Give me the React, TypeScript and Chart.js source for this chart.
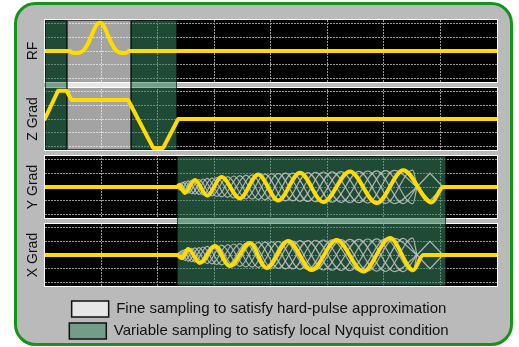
import React, { useEffect, useRef } from 'react';
import { Chart, registerables } from 'chart.js';

Chart.register(...registerables);

// ---------- data ----------
const panelTitles = ['RF', 'Z Grad', 'Y Grad', 'X Grad'];
const xGridTicks = [1, 2, 3, 4, 5, 6, 7];
const yGridTicks = [-2, -1, 0, 1, 2];

const rfX = [0, 0.442, 0.478, 0.549, 0.619, 0.69, 0.761, 0.832, 0.903, 0.973, 1.044, 1.115, 1.186, 1.257, 1.327, 1.398, 1.451, 1.487, 8];
const rfY = [0, 0, -0.11, -0.14, -0.11, 0.07, 0.51, 1.16, 1.81, 2.05, 1.81, 1.16, 0.51, 0.07, -0.11, -0.14, -0.11, 0, 0];

const zX = [0, 0.235, 0.384, 0.473, 1.474, 1.917, 2.094, 2.36, 8];
const zY = [0, 2.05, 2.05, 1.38, 1.38, -2.1, -2.1, 0, 0];

const yGradX = [0, 2.336, 2.377, 2.478, 2.655, 2.873, 3.127, 3.451, 3.775, 4.129, 4.513, 4.926, 5.398, 5.871, 6.342, 6.844, 7.05, 8];
const yGradY = [0, 0, 0.14, -0.43, 0.51, -0.62, 0.72, -0.83, 0.91, -0.98, 1.04, -1.09, 1.13, -1.17, 1.21, -1.12, 0, 0];

const xGradX = [0, 2.342, 2.419, 2.536, 2.743, 3.009, 3.274, 3.628, 3.924, 4.306, 4.72, 5.163, 5.634, 6.106, 6.519, 6.696, 8];
const xGradY = [0, 0, -0.22, 0.43, -0.58, 0.65, -0.8, 0.87, -0.94, 1.01, -1.09, 1.09, -1.2, 1.23, -1.09, 0, 0];

// other interleaves (grey)
const grayAX = [2.336, 2.411, 2.536, 2.727, 2.958, 3.235, 3.559, 3.894, 4.257, 4.651, 5.083, 5.556, 6.028, 6.51, 6.584];
const grayAUp = [0, 0.22, -0.45, 0.54, -0.65, 0.76, -0.86, 0.93, -1.0, 1.05, -1.1, 1.14, -1.19, 1.22, 0];
const grayADown = [0, -0.22, 0.45, -0.54, 0.65, -0.76, 0.86, -0.93, 1.0, -1.05, 1.1, -1.14, 1.19, -1.22, 0];

const grayBX = [2.336, 2.444, 2.596, 2.8, 3.042, 3.343, 3.667, 4.011, 4.386, 4.788, 5.241, 5.713, 6.184, 6.584];
const grayBUp = [0, 0.33, -0.49, 0.58, -0.69, 0.8, -0.88, 0.96, -1.01, 1.07, -1.12, 1.16, -1.2, 0];
const grayBDown = [0, -0.33, 0.49, -0.58, 0.69, -0.8, 0.88, -0.96, 1.01, -1.07, 1.12, -1.16, 1.2, 0];

const grayCX = [2.336, 2.377, 2.478, 2.655, 2.873, 3.127, 3.451, 3.775, 4.129, 4.513, 4.926, 5.398, 5.871, 6.342, 6.584];
const grayCUp = [0, 0.15, -0.4, 0.51, -0.62, 0.72, -0.83, 0.91, -0.98, 1.04, -1.09, 1.13, -1.17, 1.21, 0];
const grayCDown = [0, -0.15, 0.4, -0.51, 0.62, -0.72, 0.83, -0.91, 0.98, -1.04, 1.09, -1.13, 1.17, -1.21, 0];

const diamondX = [6.584, 6.814, 7.044];
const diamondUp = [0, 1.0, 0];
const diamondDown = [0, -1.0, 0];

// sampling regions (x extents)
const fineRegionsTop = [[0.39, 1.522]];
const variableRegionsTop = [[0, 0.39], [1.522, 2.345]];
const variableRegionsBottom = [[2.345, 7.09]];

const legendLabels = [
  'Fine sampling to satisfy hard-pulse approximation',
  'Variable sampling to satisfy local Nyquist condition',
];

// ---------- styles ----------
const YELLOW = '#ffdc00';
const GREY_TRACE = 'rgba(195,195,195,0.85)';
const GRID = '#9a9a9a';
const FRAME_FILL = '#bababa';
const FRAME_STROKE = '#15931a';
const FINE_FILL = 'rgba(255,255,255,0.64)';
const VAR_FILL = 'rgba(56,135,98,0.55)';
const FINE_SWATCH = '#e6e6e6';
const VAR_SWATCH = '#729d89';

const panelIds = ['yRF', 'yZ', 'yY', 'yX'];

function pts(xs: number[], ys: number[]) {
  return xs.map((x, i) => ({ x, y: ys[i] }));
}

function yellowSet(label: string, xs: number[], ys: number[], axis: string, smooth = true) {
  return {
    label,
    data: pts(xs, ys),
    yAxisID: axis,
    xAxisID: 'x',
    borderColor: YELLOW,
    borderWidth: 4,
    pointRadius: 0,
    fill: false,
    tension: 0,
    cubicInterpolationMode: smooth ? 'monotone' : 'default',
    borderJoinStyle: 'round',
    borderCapStyle: 'round',
    order: 0,
  };
}

function greySet(label: string, xs: number[], ys: number[], axis: string) {
  return {
    label,
    data: pts(xs, ys),
    yAxisID: axis,
    xAxisID: 'x',
    borderColor: GREY_TRACE,
    borderWidth: 1.2,
    pointRadius: 0,
    fill: false,
    tension: 0,
    cubicInterpolationMode: 'monotone',
    order: 1,
  };
}

function greyFamily(axis: string) {
  return [
    greySet('A+', grayAX, grayAUp, axis),
    greySet('A-', grayAX, grayADown, axis),
    greySet('B+', grayBX, grayBUp, axis),
    greySet('B-', grayBX, grayBDown, axis),
    greySet('C+', grayCX, grayCUp, axis),
    greySet('C-', grayCX, grayCDown, axis),
    { ...greySet('D+', diamondX, diamondUp, axis), cubicInterpolationMode: 'default' },
    { ...greySet('D-', diamondX, diamondDown, axis), cubicInterpolationMode: 'default' },
  ];
}

function roundRectPath(ctx: CanvasRenderingContext2D, x: number, y: number, w: number, h: number, r: number) {
  ctx.beginPath();
  ctx.moveTo(x + r, y);
  ctx.lineTo(x + w - r, y);
  ctx.arcTo(x + w, y, x + w, y + r, r);
  ctx.lineTo(x + w, y + h - r);
  ctx.arcTo(x + w, y + h, x + w - r, y + h, r);
  ctx.lineTo(x + r, y + h);
  ctx.arcTo(x, y + h, x, y + h - r, r);
  ctx.lineTo(x, y + r);
  ctx.arcTo(x, y, x + r, y, r);
  ctx.closePath();
}

const decorPlugin = {
  id: 'decor',
  beforeDraw(chart: any) {
    const { ctx, chartArea, scales } = chart;
    ctx.save();
    roundRectPath(ctx, 15.5, 3.5, chart.width - 23, chart.height - 6, 20);
    ctx.fillStyle = FRAME_FILL;
    ctx.fill();
    ctx.lineWidth = 3;
    ctx.strokeStyle = FRAME_STROKE;
    ctx.stroke();
    ctx.fillStyle = '#000';
    for (const id of panelIds) {
      const s = scales[id];
      ctx.fillRect(chartArea.left, s.top, chartArea.right - chartArea.left, s.bottom - s.top);
    }
    ctx.restore();
  },
  beforeDatasetsDraw(chart: any) {
    const { ctx, chartArea, scales } = chart;
    const L = chartArea.left;
    const W = chartArea.right - chartArea.left;
    ctx.save();
    // cover gaps between panels
    ctx.fillStyle = FRAME_FILL;
    for (let i = 0; i < panelIds.length; i++) {
      const s = scales[panelIds[i]];
      const nextTop = i + 1 < panelIds.length ? scales[panelIds[i + 1]].top : chartArea.bottom + 2;
      ctx.fillRect(L - 1, s.bottom, W + 2, nextTop - s.bottom);
    }
    // white panel borders
    ctx.strokeStyle = '#ffffff';
    ctx.lineWidth = 1;
    for (const id of panelIds) {
      const s = scales[id];
      ctx.strokeRect(Math.round(L) - 0.5, Math.round(s.top) - 0.5, Math.round(W) + 1, Math.round(s.bottom - s.top) + 1);
    }
    // sampling regions
    const x = scales.x;
    const drawRegions = (regions: number[][], top: number, bottom: number, fill: string) => {
      for (const [a, b] of regions) {
        const x1 = Math.round(x.getPixelForValue(a));
        const x2 = Math.round(x.getPixelForValue(b));
        ctx.fillStyle = fill;
        ctx.fillRect(x1, top, x2 - x1, bottom - top);
        ctx.strokeStyle = 'rgba(0,0,0,0.6)';
        ctx.lineWidth = 1;
        ctx.strokeRect(x1 + 0.5, Math.round(top) + 0.5, x2 - x1 - 1, Math.round(bottom - top) - 1);
      }
    };
    const t1 = scales.yRF.top, b1 = scales.yZ.bottom;
    const t2 = scales.yY.top, b2 = scales.yX.bottom;
    drawRegions(fineRegionsTop, t1, b1, FINE_FILL);
    drawRegions(variableRegionsTop, t1, b1, VAR_FILL);
    drawRegions(variableRegionsBottom, t2, b2, VAR_FILL);
    ctx.restore();
  },
};

function panelAxis(title: string, weight: number) {
  return {
    type: 'linear',
    position: 'left',
    stack: 'panels',
    stackWeight: 62,
    weight,
    min: -2.25,
    max: 2.25,
    afterBuildTicks: (s: any) => {
      s.ticks = yGridTicks.map((v) => ({ value: v }));
    },
    ticks: { display: false },
    grid: { color: GRID, lineWidth: 1, drawTicks: false },
    border: { display: false, dash: [2, 1] },
    title: {
      display: true,
      text: title,
      color: '#111',
      font: { size: 14 },
      padding: { top: 4, bottom: 3 },
    },
  };
}

function gapAxis(weight: number, h: number) {
  return {
    type: 'linear',
    position: 'left',
    stack: 'panels',
    stackWeight: h,
    weight,
    display: false,
  };
}

export default function App() {
  const ref = useRef<HTMLCanvasElement>(null);

  useEffect(() => {
    Chart.defaults.font.family = "'Liberation Sans', Arial, Helvetica, sans-serif";
    const datasets: any[] = [
      yellowSet('RF', rfX, rfY, 'yRF'),
      yellowSet('Z Grad', zX, zY, 'yZ', false),
      yellowSet('Y Grad', yGradX, yGradY, 'yY'),
      yellowSet('X Grad', xGradX, xGradY, 'yX'),
      ...greyFamily('yY'),
      ...greyFamily('yX'),
    ];
    const chart = new Chart(ref.current as HTMLCanvasElement, {
      type: 'line',
      data: { datasets },
      options: {
        responsive: false,
        animation: false,
        devicePixelRatio: 1,
        events: [],
        layout: { padding: { left: 21, top: 20, right: 22, bottom: -2 } },
        scales: {
          x: {
            type: 'linear',
            position: 'bottom',
            min: 0,
            max: 8,
            afterBuildTicks: (s: any) => {
              s.ticks = xGridTicks.map((v) => ({ value: v }));
            },
            ticks: { display: false },
            grid: { color: GRID, lineWidth: 1, drawTicks: false },
            border: { display: false, dash: [2, 1] },
          },
          yRF: panelAxis(panelTitles[0], 8),
          g1: gapAxis(7, 6),
          yZ: panelAxis(panelTitles[1], 6),
          g2: gapAxis(5, 6),
          yY: panelAxis(panelTitles[2], 4),
          g3: gapAxis(3, 6),
          yX: panelAxis(panelTitles[3], 2),
          gB: gapAxis(1, 9),
        } as any,
        plugins: {
          tooltip: { enabled: false },
          legend: {
            display: true,
            position: 'bottom',
            align: 'center',
            onClick: () => {},
            labels: {
              boxWidth: 37,
              boxHeight: 16,
              padding: 6,
              color: '#111',
              font: { size: 15 },
              generateLabels: () => [
                { text: legendLabels[0], fillStyle: FINE_SWATCH, strokeStyle: '#111', lineWidth: 1.5, hidden: false, fontColor: '#111' },
                { text: legendLabels[1], fillStyle: VAR_SWATCH, strokeStyle: '#111', lineWidth: 1.5, hidden: false, fontColor: '#111' },
              ],
            },
          },
        },
      } as any,
      plugins: [decorPlugin],
    } as any);
    return () => chart.destroy();
  }, []);

  return (
    <div style={{ position: 'absolute', left: 0, top: 0, width: 519, height: 347, background: '#fff' }}>
      <canvas ref={ref} width={519} height={347} style={{ display: 'block' }} />
    </div>
  );
}
